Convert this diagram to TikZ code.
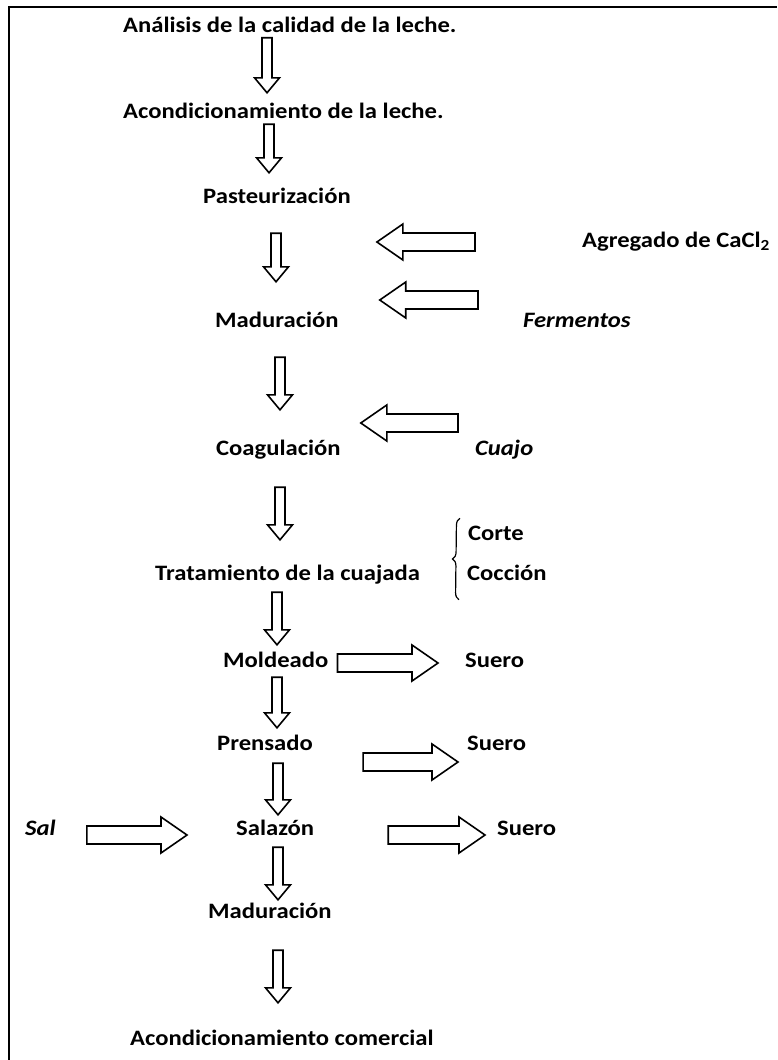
\documentclass[tikz,border=0pt]{standalone}
\usepackage{fontspec}
\setmainfont{Carlito}[FakeStretch=1.12]
\usetikzlibrary{calc,decorations.pathreplacing}
\tikzset{
  paso/.style={font=\fontsize{22}{26}\selectfont\bfseries, inner sep=0pt, text height=15.75pt, text depth=5.25pt},
  aporte/.style={paso, font=\fontsize{22}{26}\selectfont\bfseries\itshape},
  % flecha hueca hacia abajo: {x}{margen arriba}{margen abajo}
  baja/.style n args={3}{line width=1.6pt, to path={let \p1=(\tikztostart.south), \p2=(\tikztotarget.north) in
    (#1-5,\y1-#2) -- (#1-5,\y2+#3+15) -- (#1-12.5,\y2+#3+15) -- (#1,\y2+#3)
    -- (#1+12.5,\y2+#3+15) -- (#1+5,\y2+#3+15) -- (#1+5,\y1-#2) -- cycle}},
  % flecha hueca hacia la derecha: {y}{margen inicio}{margen punta}
  der/.style n args={3}{line width=1.6pt, to path={let \p1=(\tikztostart.east), \p2=(\tikztotarget.west) in
    (\x1+#2,#1-9) -- (\x2-#3-26,#1-9) -- (\x2-#3-26,#1-18) -- (\x2-#3,#1)
    -- (\x2-#3-26,#1+18) -- (\x2-#3-26,#1+9) -- (\x1+#2,#1+9) -- cycle}},
  % flecha hueca hacia la izquierda
  izq/.style n args={3}{line width=1.6pt, to path={let \p1=(\tikztostart.west), \p2=(\tikztotarget.east) in
    (\x1-#2,#1-9) -- (\x2+#3+26,#1-9) -- (\x2+#3+26,#1-18) -- (\x2+#3,#1)
    -- (\x2+#3+26,#1+18) -- (\x2+#3+26,#1+9) -- (\x1-#2,#1+9) -- cycle}}
}
\begin{document}
\begin{tikzpicture}[x=1pt,y=1pt]
\useasboundingbox (0,0) rectangle (777,-1060);
\draw[line width=2.2pt] (9,-1060) -- (9,-7) -- (777,-7);

% etapas
\node[paso,anchor=west] (analisis) at (123,-27) {Análisis de la calidad de la leche.};
\node[paso,anchor=west] (acond) at (123,-113) {Acondicionamiento de la leche.};
\node[paso,anchor=west] (pasteur) at (203,-198) {Pasteurización};
\node[paso,anchor=west] (madur) at (215,-322) {Maduración};
\node[paso,anchor=west] (coag) at (216,-450) {Coagulación};
\node[paso,anchor=west] (trat) at (155,-575) {Tratamiento de la cuajada};
\node[paso,anchor=west] (molde) at (223,-662) {Moldeado};
\node[paso,anchor=west] (prens) at (217,-745) {Prensado};
\node[paso,anchor=west] (salaz) at (236,-830) {Salazón};
\node[paso,anchor=west] (madurf) at (208,-913) {Maduración};
\node[paso,anchor=west] (comer) at (130,-1040) {Acondicionamiento comercial};

% entradas y salidas
\node[paso,anchor=west] (cacl) at (582,-242) {Agregado de CaCl\textsubscript{2}};
\node[aporte,anchor=west] (ferm) at (523,-322) {Fermentos};
\node[aporte,anchor=west] (cuajo) at (475,-450) {Cuajo};
\node[paso,anchor=west] (corte) at (468,-535) {Corte};
\node[paso,anchor=west] (coccion) at (467,-575) {Cocción};
\node[paso,anchor=west] (suero1) at (465,-662) {Suero};
\node[paso,anchor=west] (suero2) at (467,-745) {Suero};
\node[aporte,anchor=west] (sal) at (25,-830) {Sal};
\node[paso,anchor=west] (suero3) at (497,-830) {Suero};

\draw[decorate,decoration={brace,amplitude=7pt},line width=1.2pt]
  ([xshift=-8pt,yshift=-14pt]coccion.south west) -- ([xshift=-8pt,yshift=6pt]corte.north west);

% flechas
\draw[baja={267}{0}{9.5}] (analisis) to (acond);
\draw[baja={269}{0.5}{14.5}] (acond) to (pasteur);
\draw[baja={276}{24.5}{29.5}] (pasteur) to (madur);
\draw[baja={280}{24.5}{29.5}] (madur) to (coag);
\draw[baja={280}{26.5}{24.5}] (coag) to (trat);
\draw[baja={277}{6.5}{6.5}] (trat) to (molde);
\draw[baja={277}{4.5}{6.5}] (molde) to (prens);
\draw[baja={278}{7.5}{4.5}] (prens) to (salaz);
\draw[baja={278}{6.5}{2.5}] (salaz) to (madurf);
\draw[baja={278}{26.5}{26.5}] (madurf) to (comer);

\draw[izq={-242}{107}{26}] (cacl) to (pasteur);
\draw[izq={-300}{45}{41}] (ferm) to (madur);
\draw[izq={-423}{17}{20}] (cuajo) to (coag);
\draw[der={-663}{9}{27}] (molde) to (suero1);
\draw[der={-762}{50}{9}] (prens) to (suero2);
\draw[der={-835}{31}{49}] (sal) to (salaz);
\draw[der={-835}{74}{12}] (salaz) to (suero3);
\end{tikzpicture}
\end{document}
